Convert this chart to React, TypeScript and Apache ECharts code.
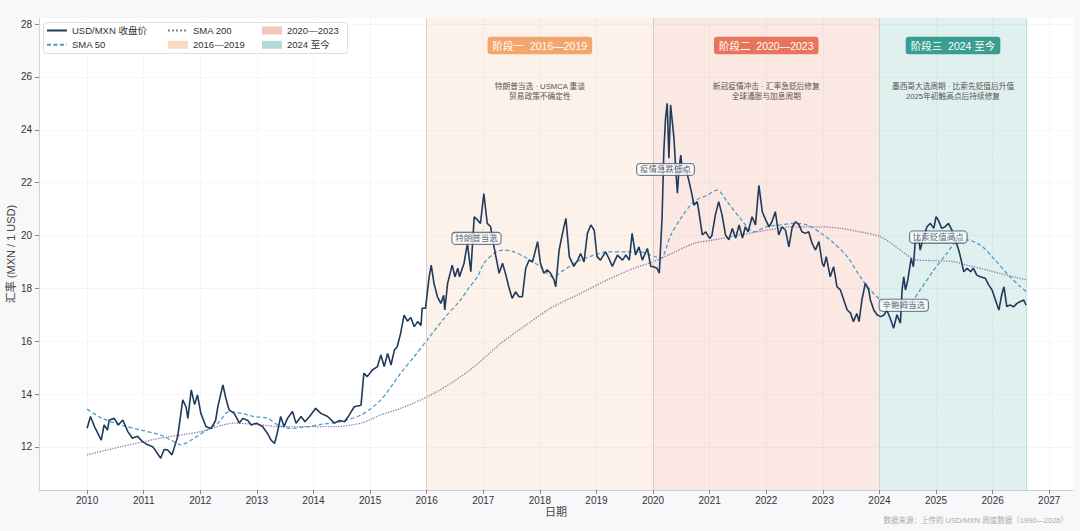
import { useEffect, useRef } from 'react';
import * as echarts from 'echarts';

const FONT = "'Liberation Sans', 'Noto Sans CJK SC', sans-serif";

// 周度收盘价（日期以年份小数表示）
const closeDates = [
  2010.0, 2010.06, 2010.13, 2010.25, 2010.3, 2010.36, 2010.39, 2010.48, 2010.55, 2010.63,
  2010.72, 2010.8, 2010.89, 2010.98, 2011.07, 2011.16, 2011.3, 2011.36, 2011.42, 2011.5,
  2011.6, 2011.69, 2011.75, 2011.78, 2011.84, 2011.9, 2011.95, 2012.01, 2012.1, 2012.19,
  2012.27, 2012.31, 2012.4, 2012.45, 2012.51, 2012.6, 2012.69, 2012.75, 2012.84, 2012.9,
  2012.99, 2013.1, 2013.19, 2013.25, 2013.31, 2013.36, 2013.42, 2013.48, 2013.54, 2013.63,
  2013.69, 2013.78, 2013.85, 2013.93, 2014.04, 2014.13, 2014.25, 2014.37, 2014.46, 2014.55,
  2014.63, 2014.72, 2014.84, 2014.89, 2014.95, 2015.04, 2015.13, 2015.19, 2015.25, 2015.31,
  2015.37, 2015.43, 2015.48, 2015.54, 2015.6, 2015.66, 2015.72, 2015.78, 2015.84, 2015.9,
  2015.92, 2015.98, 2016.04, 2016.08, 2016.13, 2016.19, 2016.25, 2016.3, 2016.32, 2016.37,
  2016.45, 2016.5, 2016.55, 2016.58, 2016.66, 2016.72, 2016.78, 2016.84, 2016.9, 2016.95,
  2017.01, 2017.07, 2017.13, 2017.19, 2017.28, 2017.34, 2017.4, 2017.45, 2017.51, 2017.57,
  2017.63, 2017.69, 2017.75, 2017.81, 2017.87, 2017.96, 2018.01, 2018.07, 2018.13, 2018.19,
  2018.25, 2018.28, 2018.34, 2018.4, 2018.46, 2018.52, 2018.6, 2018.67, 2018.72, 2018.78,
  2018.84, 2018.9, 2018.96, 2019.01, 2019.07, 2019.16, 2019.22, 2019.28, 2019.37, 2019.46,
  2019.52, 2019.58, 2019.63, 2019.69, 2019.75, 2019.81, 2019.9, 2019.96, 2020.01, 2020.07,
  2020.11, 2020.16, 2020.19, 2020.22, 2020.25, 2020.28, 2020.31, 2020.34, 2020.37, 2020.4,
  2020.43, 2020.46, 2020.49, 2020.52, 2020.57, 2020.63, 2020.69, 2020.72, 2020.78, 2020.81,
  2020.87, 2020.93, 2021.0, 2021.04, 2021.1, 2021.16, 2021.22, 2021.28, 2021.34, 2021.4,
  2021.46, 2021.52, 2021.58, 2021.63, 2021.68, 2021.75, 2021.81, 2021.87, 2021.93, 2021.99,
  2022.05, 2022.1, 2022.16, 2022.22, 2022.28, 2022.34, 2022.4, 2022.46, 2022.52, 2022.58,
  2022.63, 2022.69, 2022.75, 2022.81, 2022.87, 2022.93, 2022.99, 2023.02, 2023.06, 2023.13,
  2023.19, 2023.25, 2023.31, 2023.37, 2023.43, 2023.49, 2023.54, 2023.6, 2023.64, 2023.69,
  2023.75, 2023.81, 2023.84, 2023.9, 2023.96, 2024.02, 2024.08, 2024.13, 2024.19, 2024.25,
  2024.31, 2024.37, 2024.4, 2024.43, 2024.46, 2024.5, 2024.56, 2024.6, 2024.63, 2024.69,
  2024.72, 2024.78, 2024.84, 2024.9, 2024.96, 2025.0, 2025.04, 2025.1, 2025.16, 2025.22,
  2025.28, 2025.34, 2025.4, 2025.43, 2025.49, 2025.55, 2025.61, 2025.66, 2025.72, 2025.78,
  2025.87, 2025.93, 2025.99, 2026.05, 2026.11, 2026.16, 2026.2, 2026.25, 2026.31, 2026.37,
  2026.43, 2026.49, 2026.55, 2026.59,
];
const closeValues = [
  12.71, 13.15, 12.77, 12.26, 12.83, 12.64, 13.02, 13.08, 12.83, 13.02,
  12.58, 12.33, 12.4, 12.2, 12.08, 12.01, 11.57, 11.9, 11.89, 11.7,
  12.39, 13.78, 13.5, 13.08, 14.16, 13.6, 13.97, 13.27, 12.77, 12.7,
  13.0, 13.52, 14.35, 13.85, 13.4, 13.27, 12.9, 13.08, 13.0, 12.83,
  12.9, 12.77, 12.5, 12.26, 12.13, 12.52, 13.15, 12.77, 13.08, 13.34,
  12.9, 13.15, 12.95, 13.15, 13.46, 13.27, 13.15, 12.9, 13.0, 12.95,
  13.2, 13.52, 13.58, 14.79, 14.66, 14.91, 15.04, 15.48, 15.04, 15.54,
  15.1, 15.67, 15.79, 16.3, 16.99, 16.76, 16.9, 16.55, 16.74, 16.6,
  17.25, 17.25, 18.38, 18.88, 18.18, 17.68, 17.43, 17.74, 17.18, 18.19,
  18.88, 18.44, 18.76, 18.44, 18.95, 19.7, 18.63, 20.71, 20.58, 20.46,
  21.59, 20.46, 20.33, 19.57, 18.57, 18.95, 18.5, 18.06, 17.62, 17.87,
  17.68, 17.68, 18.76, 19.07, 19.0, 19.77, 18.95, 18.57, 18.7, 18.57,
  18.32, 18.06, 19.45, 20.08, 20.65, 19.2, 18.83, 19.07, 19.32, 19.0,
  20.08, 20.4, 20.2, 19.2, 19.07, 19.38, 19.13, 18.83, 19.26, 19.07,
  19.26, 19.07, 20.08, 19.26, 19.57, 19.07, 19.51, 18.83, 18.82, 18.76,
  18.57, 20.71, 23.17, 24.43, 25.0, 22.92, 24.94, 24.3, 23.67, 22.54,
  21.6, 22.54, 23.04, 22.42, 22.6, 22.1, 21.53, 21.15, 21.28, 20.9,
  20.02, 20.14, 19.89, 20.0, 20.77, 21.28, 20.77, 20.02, 19.84, 20.27,
  19.9, 20.4, 19.9, 20.33, 20.14, 20.71, 20.4, 21.9, 20.9, 20.59,
  20.33, 20.52, 20.9, 20.02, 20.33, 20.2, 19.57, 20.33, 20.52, 20.4,
  20.14, 20.08, 20.14, 19.7, 19.45, 19.77, 18.95, 18.82, 19.2, 18.44,
  18.82, 18.06, 17.94, 17.56, 17.18, 17.06, 16.74, 17.05, 16.74, 17.56,
  18.19, 17.94, 17.56, 17.18, 16.99, 16.93, 16.99, 17.18, 16.87, 16.49,
  17.0, 16.68, 17.94, 18.44, 17.94, 18.3, 19.13, 18.82, 19.7, 19.95,
  19.45, 19.95, 20.33, 20.46, 20.27, 20.71, 20.58, 20.27, 20.33, 20.46,
  20.2, 19.83, 19.45, 19.2, 18.63, 18.76, 18.63, 18.76, 18.5, 18.44,
  18.38, 18.13, 17.94, 17.56, 17.18, 17.75, 18.06, 17.31, 17.37, 17.3,
  17.43, 17.5, 17.56, 17.37,
];

const sma50Dates = [
  2010.0, 2010.25, 2010.6, 2010.95, 2011.3, 2011.48, 2011.66, 2011.84, 2012.07, 2012.31,
  2012.51, 2012.72, 2012.95, 2013.19, 2013.37, 2013.6, 2013.9, 2014.13, 2014.48, 2014.84,
  2015.19, 2015.54, 2015.78, 2016.01, 2016.31, 2016.6, 2016.72, 2016.9, 2017.01, 2017.19,
  2017.34, 2017.54, 2017.78, 2018.01, 2018.22, 2018.43, 2018.66, 2018.96, 2019.19, 2019.55,
  2019.78, 2019.96, 2020.13, 2020.31, 2020.49, 2020.72, 2020.96, 2021.13, 2021.31, 2021.54,
  2021.78, 2022.0, 2022.25, 2022.49, 2022.72, 2022.96, 2023.19, 2023.43, 2023.66, 2023.84,
  2024.02, 2024.19, 2024.37, 2024.54, 2024.72, 2024.96, 2025.19, 2025.36, 2025.54, 2025.78,
  2026.02, 2026.25, 2026.49, 2026.6,
];
const sma50Values = [
  13.43, 13.1, 12.83, 12.64, 12.45, 12.26, 12.08, 12.26, 12.58, 12.9,
  13.34, 13.27, 13.15, 13.08, 12.83, 12.7, 12.77, 12.85, 12.96, 13.21,
  13.78, 14.79, 15.42, 16.05, 16.87, 17.56, 17.94, 18.45, 18.95, 19.32,
  19.45, 19.38, 19.13, 18.82, 18.44, 18.7, 19.01, 19.26, 19.38, 19.38,
  19.38, 19.26, 19.13, 20.0, 20.65, 21.28, 21.53, 21.72, 21.28, 20.65,
  20.14, 20.33, 20.4, 20.46, 20.4, 20.1, 19.72, 19.2, 18.44, 17.94,
  17.56, 17.37, 17.31, 17.43, 17.94, 18.69, 19.32, 19.77, 19.83, 19.64,
  19.13, 18.57, 18.06, 17.87,
];

const sma200Dates = [
  2010.0, 2010.6, 2011.3, 2012.01, 2012.6, 2013.07, 2013.42, 2013.8, 2014.37, 2014.84,
  2015.19, 2015.54, 2016.01, 2016.43, 2016.84, 2017.31, 2017.75, 2018.19, 2018.72, 2019.19,
  2019.66, 2020.01, 2020.31, 2020.72, 2021.07, 2021.54, 2022.02, 2022.49, 2022.96, 2023.31,
  2023.66, 2024.02, 2024.25, 2024.49, 2024.66, 2024.96, 2025.31, 2025.54, 2025.9, 2026.25,
  2026.6,
];
const sma200Values = [
  11.7, 12.01, 12.33, 12.58, 12.9, 12.83, 12.77, 12.77, 12.77, 12.9,
  13.21, 13.46, 13.9, 14.41, 15.04, 15.92, 16.6, 17.25, 17.81, 18.32,
  18.76, 19.01, 19.3, 19.7, 19.83, 20.02, 20.2, 20.33, 20.33, 20.27,
  20.14, 19.95, 19.64, 19.26, 19.07, 19.05, 19.01, 18.88, 18.69, 18.5,
  18.32,
];

const yearTicks = [
  2010, 2011, 2012, 2013, 2014, 2015, 2016, 2017, 2018,
  2019, 2020, 2021, 2022, 2023, 2024, 2025, 2026, 2027,
];
const rateTicks = [12, 14, 16, 18, 20, 22, 24, 26, 28];

const phaseNames = ['2016—2019', '2020—2023', '2024 至今'];
const phaseStarts = [2016, 2020, 2024];
const phaseEnds = [2020, 2024, 2026.6];
const phaseTitles = ['阶段一  2016—2019', '阶段二  2020—2023', '阶段三  2024 至今'];
const phaseNotes = [
  ['特朗普当选 · USMCA 重谈', '贸易政策不确定性'],
  ['新冠疫情冲击 · 汇率急贬后修复', '全球通胀与加息周期'],
  ['墨西哥大选周期 · 比索先贬值后升值', '2025年初触高点后持续修复'],
];

const eventNames = ['特朗普当选', '疫情急跌低点', '辛鲍姆当选', '比索贬值高点'];
const eventDates = [2016.88, 2020.22, 2024.43, 2025.04];
const eventValues = [19.89, 22.5, 17.36, 19.94];

const phaseBand = ['rgba(244,162,97,0.14)', 'rgba(231,111,81,0.16)', 'rgba(42,157,143,0.15)'];
const phasePatch = ['rgba(244,162,97,0.4)', 'rgba(231,111,81,0.4)', 'rgba(42,157,143,0.36)'];
const phaseBadge = ['#f3a66b', '#e8745b', '#389e8f'];
const phaseEdge = ['#e6cdb9', '#dcc8c4', '#c8d5d3'];

export default function App() {
  const chartRef = useRef<HTMLDivElement>(null);

  useEffect(() => {
    if (!chartRef.current) return;
    const chart = echarts.init(chartRef.current, undefined, { renderer: 'svg' });

    const zip = (xs: number[], ys: number[]) => xs.map((x, i) => [x, ys[i]]);

    const bandSeries = phaseNames.map((name, i) => {
      const edges: any[] = [{ xAxis: phaseStarts[i] }];
      if (i === phaseNames.length - 1) {
        edges.push({ xAxis: phaseEnds[i], lineStyle: { color: '#bfe0da' } });
      }
      return {
        name,
        type: 'line',
        z: 1,
        data: [],
        color: phasePatch[i],
        itemStyle: { color: phasePatch[i] },
        markArea: {
          silent: true,
          itemStyle: { color: phaseBand[i] },
          label: {
            show: true,
            position: 'insideTop',
            distance: 21.5,
            formatter: `{badge|${phaseTitles[i]}}\n{gap| }\n{desc|${phaseNotes[i][0]}}\n{desc|${phaseNotes[i][1]}}`,
            rich: {
              badge: {
                backgroundColor: phaseBadge[i],
                color: '#fff',
                fontSize: 10.5,
                fontFamily: FONT,
                padding: [4, 5, 3, 5],
                borderRadius: 3,
                lineHeight: 12,
              },
              gap: { fontSize: 4, lineHeight: 30 },
              desc: { color: '#555', fontSize: 7.7, fontFamily: FONT, lineHeight: 10 },
            },
          },
          data: [[{ xAxis: phaseStarts[i] }, { xAxis: phaseEnds[i] }]],
        },
        markLine: {
          silent: true,
          symbol: ['none', 'none'],
          label: { show: false },
          lineStyle: { color: phaseEdge[i], type: 'solid', width: 1 },
          data: edges,
        },
      };
    });

    const legendBase = {
      orient: 'vertical',
      top: 25.5,
      padding: 0,
      itemWidth: 20,
      itemHeight: 8,
      itemGap: 4.3,
      z: 11,
      textStyle: { fontSize: 9.5, color: '#333', fontFamily: FONT, lineHeight: 10 },
    };
    // 线条图例只保留线段，不画圆点
    const lineItem = (name: string) => ({ name, itemStyle: { opacity: 0 } });

    chart.setOption({
      animation: false,
      backgroundColor: '#f8f8fb',
      textStyle: { fontFamily: FONT },
      grid: {
        left: 39,
        right: 7,
        top: 18,
        bottom: 41,
        outerBoundsMode: 'none',
        containLabel: false,
        show: true,
        backgroundColor: '#ffffff',
        borderWidth: 0,
      },
      legend: [
        { ...legendBase, left: 46, data: [lineItem('USD/MXN 收盘价'), lineItem('SMA 50')] },
        {
          ...legendBase,
          left: 167,
          data: [lineItem('SMA 200'), { name: phaseNames[0], icon: 'rect', itemStyle: { color: phasePatch[0] } }],
        },
        {
          ...legendBase,
          left: 262,
          data: [
            { name: phaseNames[1], icon: 'rect', itemStyle: { color: phasePatch[1] } },
            { name: phaseNames[2], icon: 'rect', itemStyle: { color: phasePatch[2] } },
          ],
        },
      ],
      graphic: [
        {
          type: 'rect',
          left: 43,
          top: 22,
          z: 10,
          shape: { width: 304, height: 31, r: 3 },
          style: { fill: '#ffffff', stroke: '#dcdce3', lineWidth: 1 },
        },
        {
          type: 'text',
          right: 12,
          top: 517,
          z: 10,
          style: {
            text: '数据来源：上传的 USD/MXN 周度数据（1990—2026）',
            fill: '#aaaaaa',
            font: `7.5px ${FONT}`,
          },
        },
      ],
      xAxis: {
        type: 'value',
        min: 2009.15,
        max: 2027.42,
        splitNumber: 18,
        name: '日期',
        nameLocation: 'middle',
        nameGap: 16,
        nameMoveOverlap: false,
        nameTextStyle: { fontSize: 11, color: '#444', fontFamily: FONT },
        axisLine: { show: true, lineStyle: { color: '#cfcfd7', width: 1 } },
        axisTick: { show: true, length: 4, lineStyle: { color: '#888' }, customValues: yearTicks },
        axisLabel: {
          customValues: yearTicks,
          fontSize: 10,
          color: '#333',
          margin: 5,
          formatter: (v: number) => String(Math.round(v)),
        },
        splitLine: { show: true, lineStyle: { color: '#ececf1', type: 'dashed', width: 0.7 } },
      },
      yAxis: {
        type: 'value',
        min: 10.37,
        max: 28.23,
        splitNumber: 9,
        name: '汇率 (MXN / 1 USD)',
        nameLocation: 'middle',
        nameGap: 23,
        nameRotate: 90,
        nameMoveOverlap: false,
        nameTextStyle: { fontSize: 11, color: '#444', fontFamily: FONT },
        axisLine: { show: true, lineStyle: { color: '#cfcfd7', width: 1 } },
        axisTick: { show: true, length: 4, lineStyle: { color: '#888' }, customValues: rateTicks },
        axisLabel: { customValues: rateTicks, fontSize: 10, color: '#333', margin: 7 },
        splitLine: { show: true, lineStyle: { color: '#ececf1', type: 'dashed', width: 0.7 } },
      },
      series: [
        ...bandSeries,
        {
          name: 'SMA 200',
          type: 'line',
          z: 3,
          data: zip(sma200Dates, sma200Values),
          smooth: 0.3,
          symbol: 'none',
          color: '#8e77a8',
          lineStyle: { color: '#8e77a8', width: 1.3, type: 'dotted' },
        },
        {
          name: 'SMA 50',
          type: 'line',
          z: 4,
          data: zip(sma50Dates, sma50Values),
          smooth: 0.3,
          symbol: 'none',
          color: '#4e9dc7',
          lineStyle: { color: '#4e9dc7', width: 1.3, type: [4, 2.5] },
        },
        {
          name: 'USD/MXN 收盘价',
          type: 'line',
          z: 5,
          data: zip(closeDates, closeValues),
          symbol: 'none',
          color: '#1f3a5c',
          lineStyle: { color: '#1f3a5c', width: 1.6 },
        },
        {
          name: 'events',
          type: 'scatter',
          z: 6,
          symbolSize: 0,
          silent: true,
          data: eventNames.map((n, i) => ({ name: n, value: [eventDates[i], eventValues[i]] })),
          label: {
            show: true,
            position: 'inside',
            formatter: (p: any) => p.name,
            fontSize: 8.5,
            fontFamily: FONT,
            color: '#2b3e55',
            backgroundColor: 'rgba(255,255,255,0.92)',
            borderColor: '#2b3e55',
            borderWidth: 0.8,
            borderRadius: 3,
            padding: [2, 3, 1, 3],
          },
        },
      ],
    });

    return () => {
      chart.dispose();
    };
  }, []);

  return (
    <div
      ref={chartRef}
      style={{ position: 'fixed', left: 0, top: 0, width: 1080, height: 531 }}
    />
  );
}
